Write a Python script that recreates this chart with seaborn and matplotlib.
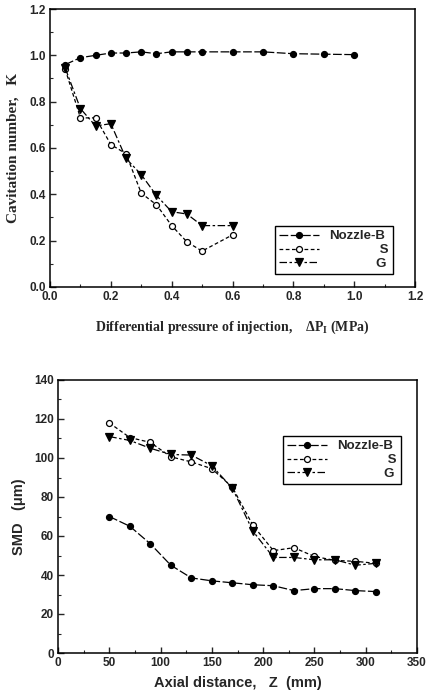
import matplotlib
matplotlib.use("Agg")
import matplotlib.pyplot as plt
import seaborn as sns
import pandas as pd
from matplotlib.ticker import MultipleLocator

# ---- data: top chart (cavitation number vs differential pressure) ----
dp_b = [0.05, 0.1, 0.15, 0.2, 0.25, 0.3, 0.35, 0.4, 0.45, 0.5, 0.6, 0.7, 0.8, 0.9, 1.0]
k_b = [0.96, 0.99, 1.0, 1.01, 1.01, 1.015, 1.007, 1.015, 1.015, 1.015, 1.015, 1.015, 1.007, 1.005, 1.003]
dp_s = [0.05, 0.1, 0.15, 0.2, 0.25, 0.3, 0.35, 0.4, 0.45, 0.5, 0.6]
k_s = [0.94, 0.73, 0.73, 0.615, 0.575, 0.405, 0.355, 0.265, 0.195, 0.155, 0.225]
dp_g = [0.05, 0.1, 0.15, 0.2, 0.25, 0.3, 0.35, 0.4, 0.45, 0.5, 0.6]
k_g = [0.945, 0.77, 0.695, 0.705, 0.555, 0.485, 0.395, 0.325, 0.315, 0.265, 0.265]

# ---- data: bottom chart (SMD vs axial distance) ----
z = [50, 70, 90, 110, 130, 150, 170, 190, 210, 230, 250, 270, 290, 310]
smd_b = [70, 65, 56, 45, 38.5, 37, 36, 35, 34.5, 32, 33, 33, 32, 31.5]
smd_s = [118, 110.5, 108, 100.6, 98, 94.5, 85, 65.5, 52.5, 54, 49.5, 47.5, 47, 46]
smd_g = [111, 109, 105, 101.8, 101.5, 96, 84.5, 62.5, 49, 49, 47.8, 47.8, 45, 46]

series_names = ["Nozzle-B", "S", "G"]
legend_labels = ["Nozzle-B", " " * 14 + "S", " " * 13 + "G"]

sns.set_theme(style="ticks")
plt.rcParams['font.family'] = ['Liberation Sans', 'DejaVu Sans']

fig = plt.figure(figsize=(4.29, 6.99), dpi=100)
ax1 = fig.add_axes([50/429, 1-287/699, (415-50)/429, (287-9)/699])
ax2 = fig.add_axes([58/429, 1-653/699, (417-58)/429, (653-380)/699])

styles = {
    "Nozzle-B": dict(marker="o", markerfacecolor="black", dashes=(7, 2)),
    "S": dict(marker="o", markerfacecolor="white", dashes=(3, 2)),
    "G": dict(marker="v", markerfacecolor="black", dashes=(6, 2, 2, 2)),
}

def draw(ax, xs_list, ys_list):
    for name, lab, xs, ys in zip(series_names, legend_labels, xs_list, ys_list):
        st = styles[name]
        df = pd.DataFrame({"x": xs, "y": ys})
        sns.lineplot(data=df, x="x", y="y", ax=ax, color="black", lw=0.9,
                     marker=st["marker"], markersize=4.3 if st["marker"] == "o" else 5.3,
                     markerfacecolor=st["markerfacecolor"], markeredgecolor="black",
                     markeredgewidth=0.9, label=lab)
        ax.lines[-1].set_dashes(st["dashes"])

draw(ax1, [dp_b, dp_s, dp_g], [k_b, k_s, k_g])
draw(ax2, [z, z, z], [smd_b, smd_s, smd_g])

for ax in (ax1, ax2):
    for sp in ax.spines.values():
        sp.set_visible(True)
        sp.set_color("black")
        sp.set_linewidth(1.1)
    ax.tick_params(which="major", direction="in", length=4, width=1, labelsize=8.5,
                   top=False, right=False, pad=3)
    ax.tick_params(which="minor", direction="in", length=2, width=0.8, top=False, right=False)

# top chart axes
ax1.set_xlim(0, 1.2)
ax1.set_ylim(0, 1.2)
ax1.xaxis.set_minor_locator(MultipleLocator(0.1))
ax1.yaxis.set_minor_locator(MultipleLocator(0.1))
ax1.set_xticks([0, 0.2, 0.4, 0.6, 0.8, 1.0, 1.2])
ax1.set_xticklabels(["0.0", "0.2", "0.4", "0.6", "0.8", "1.0", "1.2"], fontweight="bold")
ax1.set_yticks([0, 0.2, 0.4, 0.6, 0.8, 1.0, 1.2])
ax1.set_yticklabels(["0.0", "0.2", "0.4", "0.6", "0.8", "1.0", "1.2"], fontweight="bold")
ax1.set_xlabel("Differential pressure of injection,    ΔP$_\\mathregular{I}$ (MPa)",
               fontfamily="Liberation Serif", fontweight="bold", fontsize=10, labelpad=11)
ax1.set_ylabel("Cavitation number,   K", fontfamily="Liberation Serif",
               fontweight="bold", fontsize=11, labelpad=7)

# bottom chart axes
ax2.set_xlim(0, 350)
ax2.set_ylim(0, 140)
ax2.set_xticks([0, 50, 100, 150, 200, 250, 300, 350])
ax2.set_xticklabels(["0", "50", "100", "150", "200", "250", "300", "350"], fontweight="bold")
ax2.xaxis.set_minor_locator(MultipleLocator(25))
ax2.set_yticks([0, 20, 40, 60, 80, 100, 120, 140])
ax2.set_yticklabels(["0", "20", "40", "60", "80", "100", "120", "140"], fontweight="bold")
ax2.yaxis.set_minor_locator(MultipleLocator(10))
ax2.set_xlabel("Axial distance,   Z  (mm)", fontweight="bold", fontsize=10.5, labelpad=5)
ax2.set_ylabel("SMD   (μm)", fontweight="bold", fontsize=10.5, labelpad=6)

for ax, loc in ((ax1, (275/429, 1-274/699)), (ax2, (283/429, 1-484/699))):
    leg = ax.legend(loc="lower left", bbox_to_anchor=loc, bbox_transform=fig.transFigure,
                    frameon=True, fancybox=False, edgecolor="black", framealpha=1,
                    prop={"weight": "bold", "size": 9.5}, handlelength=3.0,
                    borderpad=0.3, labelspacing=0.12, handletextpad=0.8, borderaxespad=0)
    leg.get_frame().set_linewidth(1.0)

fig.savefig("out.png", dpi=100, facecolor="white")
